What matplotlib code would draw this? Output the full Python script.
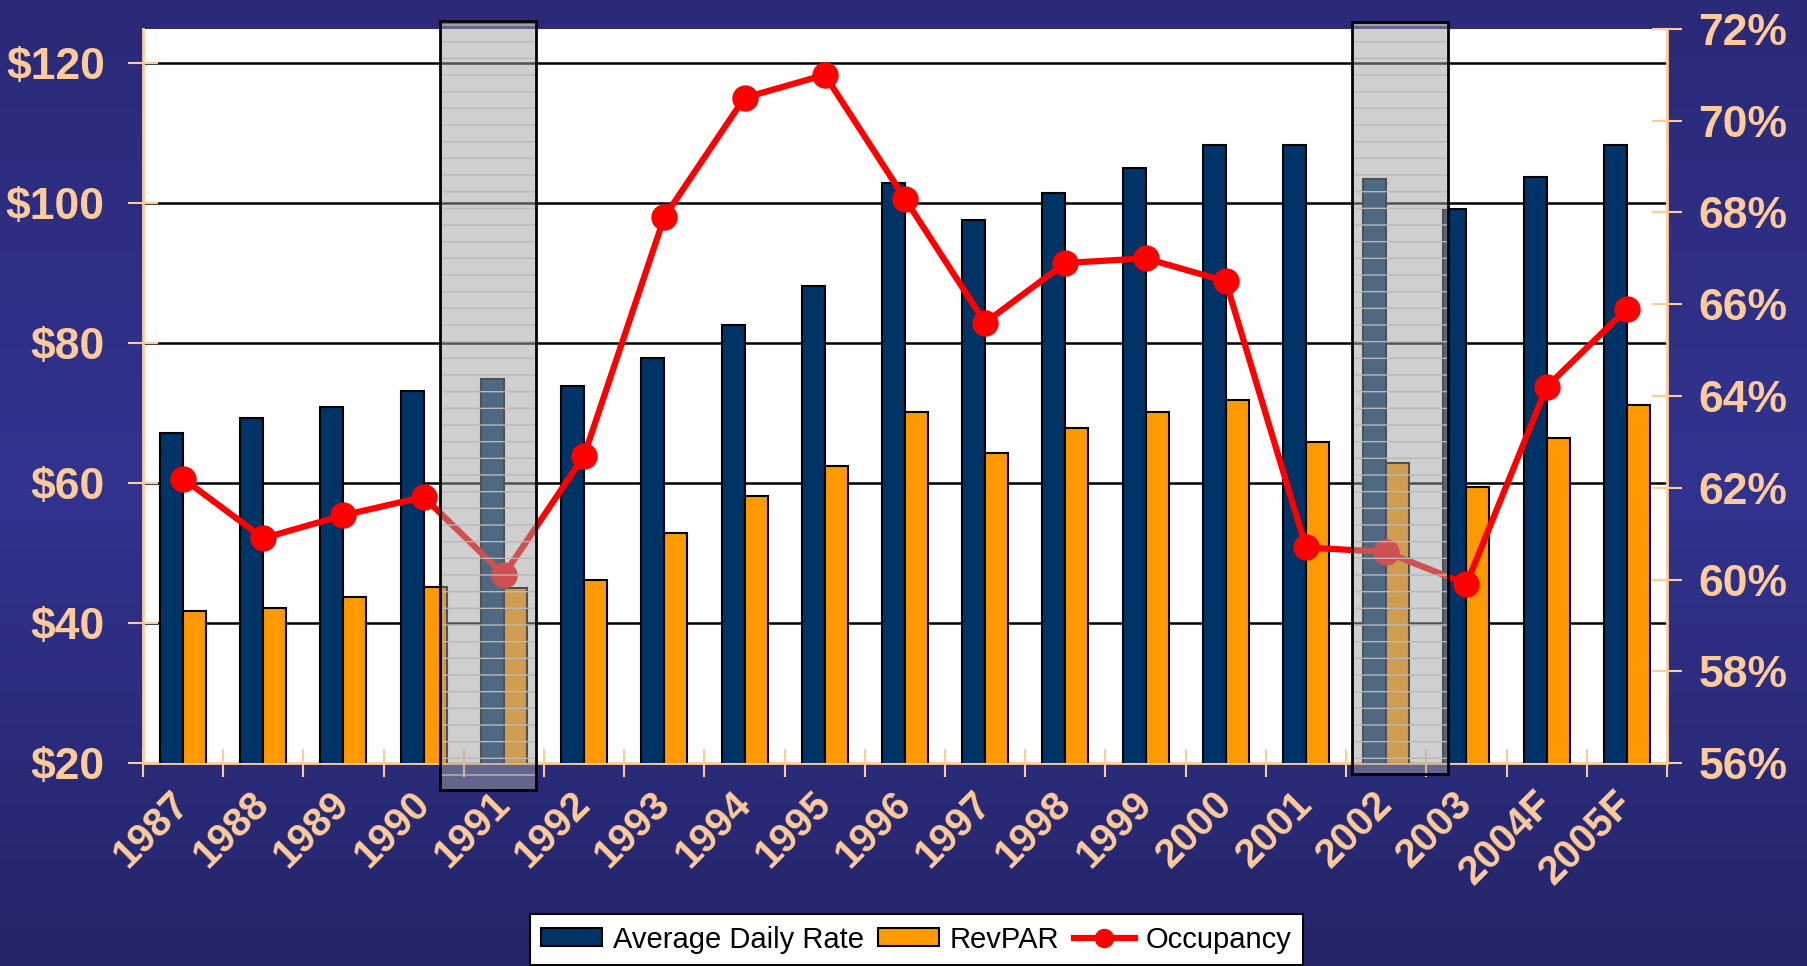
import matplotlib
matplotlib.use('Agg')
import matplotlib.pyplot as plt
import matplotlib.transforms as mtransforms
import numpy as np
from matplotlib.patches import Rectangle, Patch
from matplotlib.lines import Line2D
from matplotlib.colors import LinearSegmentedColormap

years = ['1987', '1988', '1989', '1990', '1991', '1992', '1993', '1994', '1995',
         '1996', '1997', '1998', '1999', '2000', '2001', '2002', '2003',
         '2004F', '2005F']
adr = [67.1, 69.3, 70.9, 73.2, 74.9, 73.9, 77.8, 82.6, 88.2, 102.9, 97.6,
       101.5, 105.0, 108.3, 108.3, 103.4, 99.1, 103.7, 108.3]
revpar = [41.7, 42.1, 43.7, 45.2, 45.0, 46.2, 52.8, 58.2, 62.5, 70.2, 64.3,
          67.9, 70.2, 71.9, 65.8, 62.8, 59.5, 66.5, 71.2]
occupancy = [62.2, 60.9, 61.4, 61.8, 60.1, 62.7, 67.9, 70.5, 71.0, 68.3, 65.6,
             66.9, 67.0, 66.5, 60.7, 60.6, 59.9, 64.2, 65.9]
dollar_ticks = [20, 40, 60, 80, 100, 120]
pct_ticks = [56, 58, 60, 62, 64, 66, 68, 70, 72]

NAVY = '#003366'
ORANGE = '#FF9900'
PEACH = '#FFCC99'
RED = '#FF0000'

plt.rcParams['font.family'] = ['Liberation Sans', 'DejaVu Sans']

fig = plt.figure(figsize=(18.07, 9.66), dpi=100)

# blue slide background, darker at the edges
bg = fig.add_axes([0, 0, 1, 1], zorder=-10)
grad = LinearSegmentedColormap.from_list('bg', ['#25256A', '#31338F', '#2A2A78'])
bg.imshow(np.linspace(0, 1, 256).reshape(-1, 1), aspect='auto', cmap=grad,
          origin='lower', extent=[0, 1, 0, 1])
bg.set_axis_off()

ax = fig.add_axes([0.0791, 0.2101, 0.8434, 0.7599])
ax.set_facecolor('white')
x = np.arange(len(years))
w = 0.287
ax.bar(x - w / 2, adr, w, color=NAVY, edgecolor='black', linewidth=1.5, zorder=3)
ax.bar(x + w / 2, revpar, w, color=ORANGE, edgecolor='black', linewidth=1.5, zorder=3)

ax.set_xlim(-0.5, len(years) - 0.5)
ax.set_ylim(20, 124.86)
ax.set_yticks(dollar_ticks)
ax.set_yticklabels(['$%d' % v for v in dollar_ticks])
for v in dollar_ticks[1:]:
    ax.axhline(v, color='black', lw=1.8, zorder=1)

# category boundaries carry the tick marks, centres carry the labels
ax.set_xticks(np.arange(-0.5, len(years), 1))
ax.set_xticklabels([])
ax.set_xticks(x, minor=True)
ax.set_xticklabels(years, minor=True, rotation=45, ha='right', va='center',
                   rotation_mode='anchor', fontsize=29, fontweight='bold', color=PEACH)
shift = mtransforms.ScaledTranslation(8 / 72, 0, fig.dpi_scale_trans)
for lab in ax.get_xticklabels(minor=True):
    lab.set_transform(lab.get_transform() + shift)
ax.tick_params(axis='x', which='major', direction='inout', length=20, width=1.5, color=PEACH)
ax.tick_params(axis='x', which='minor', length=0, pad=25)
ax.tick_params(axis='y', direction='inout', length=21, width=1.5, color=PEACH,
               labelsize=32, labelcolor=PEACH, pad=17)
for lab in ax.get_yticklabels():
    lab.set_fontweight('bold')

for side in ['top', 'right']:
    ax.spines[side].set_visible(False)
for side in ['left', 'bottom']:
    ax.spines[side].set_color(PEACH)
    ax.spines[side].set_linewidth(2)

ax2 = ax.twinx()
ax2.plot(x, occupancy, color=RED, lw=4.5, marker='o', markersize=18, zorder=4)
ax2.set_ylim(56, 72)
ax2.set_yticks(pct_ticks)
ax2.set_yticklabels(['%d%%' % v for v in pct_ticks])
ax2.tick_params(axis='y', direction='inout', length=21, width=1.5, color=PEACH,
                labelsize=32, labelcolor=PEACH, pad=12)
for lab in ax2.get_yticklabels():
    lab.set_fontweight('bold')
for side in ['top', 'left', 'bottom']:
    ax2.spines[side].set_visible(False)
ax2.spines['right'].set_color(PEACH)
ax2.spines['right'].set_linewidth(2)

# recession shading over 1991 and 2002
trans = ax2.get_xaxis_transform()
for x0, x1, y0, y1 in [(3.2, 4.4, -0.0368, 1.0109), (14.57, 15.77, -0.015, 1.0095)]:
    ax2.add_patch(Rectangle((x0, y0), x1 - x0, y1 - y0, transform=trans,
                            facecolor='#A0A0A0', alpha=0.5, lw=0,
                            clip_on=False, zorder=6))
    ax2.add_patch(Rectangle((x0, y0), x1 - x0, y1 - y0, transform=trans,
                            facecolor='none', edgecolor='#B8B8B8', hatch='-',
                            lw=0, clip_on=False, zorder=6))
    ax2.add_patch(Rectangle((x0, y0), x1 - x0, y1 - y0, transform=trans,
                            facecolor='none', edgecolor='black', lw=2,
                            clip_on=False, zorder=7))

handles = [Patch(facecolor=NAVY, edgecolor='black', lw=1.5),
           Patch(facecolor=ORANGE, edgecolor='black', lw=1.5),
           Line2D([], [], color=RED, lw=4.5, marker='o', markersize=13)]
leg = fig.legend(handles, ['Average Daily Rate', 'RevPAR', 'Occupancy'],
                 loc='upper center', bbox_to_anchor=(0.507, 0.054), ncol=3,
                 fontsize=21, frameon=True, fancybox=False, framealpha=1,
                 edgecolor='black', handlelength=2.1, handleheight=0.6,
                 handletextpad=0.35, columnspacing=0.5, borderpad=0.4,
                 borderaxespad=0)
leg.get_frame().set_linewidth(1.5)

fig.savefig('out.png', dpi=100)
